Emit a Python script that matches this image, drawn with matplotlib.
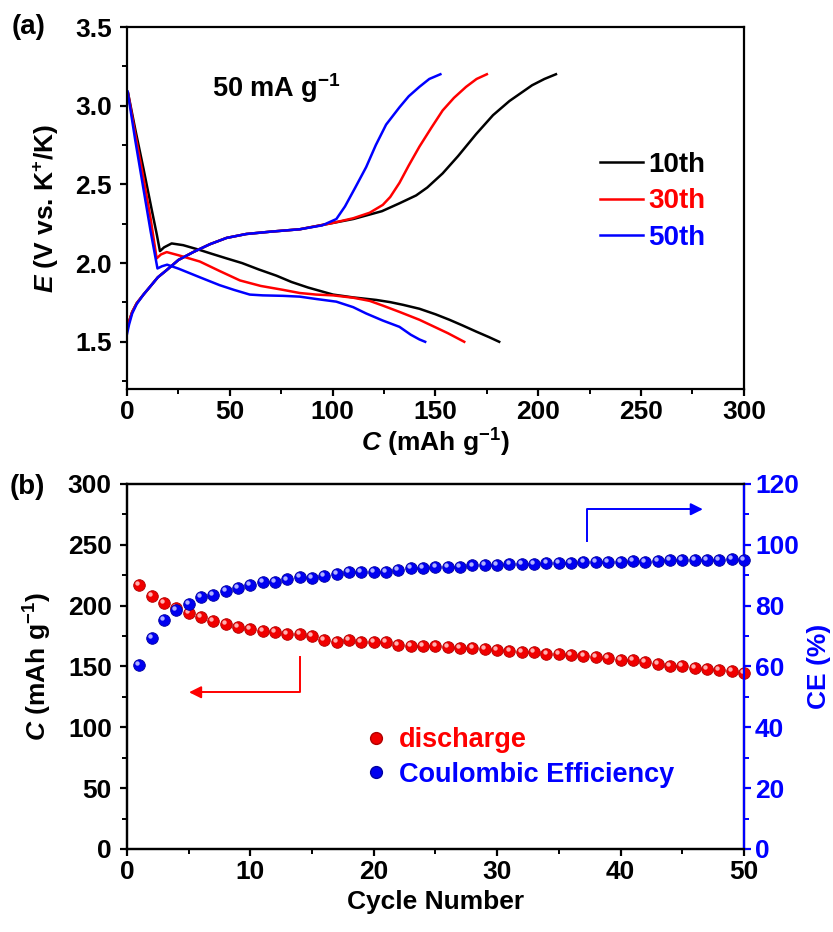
import matplotlib
matplotlib.use("Agg")
import matplotlib.pyplot as plt
import matplotlib.transforms as mtransforms
from matplotlib.lines import Line2D
from matplotlib.ticker import MultipleLocator, FormatStrFormatter

plt.rcParams['font.family'] = ['Liberation Sans', 'DejaVu Sans']
plt.rcParams['font.weight'] = 'bold'
plt.rcParams['axes.labelweight'] = 'bold'
plt.rcParams['mathtext.fontset'] = 'custom'
plt.rcParams['mathtext.rm'] = 'Liberation Sans:bold'
plt.rcParams['mathtext.it'] = 'Liberation Sans:italic:bold'
plt.rcParams['mathtext.bf'] = 'Liberation Sans:bold'
plt.rcParams['mathtext.default'] = 'rm'

# ---- (a) galvanostatic charge/discharge profiles ----
dis10_c = [0.5, 4, 8, 12, 14.5, 16, 18, 21.7, 27.3, 35, 41, 48.4, 56, 64, 72.7, 80, 88,
           100.2, 110, 121.2, 128, 134.2, 142.2, 150, 156.8, 163, 169.8, 176, 181]
dis10_v = [3.08, 2.85, 2.6, 2.34, 2.18, 2.076, 2.1, 2.125, 2.114, 2.085, 2.06, 2.03, 2.0,
           1.96, 1.92, 1.88, 1.845, 1.80, 1.782, 1.766, 1.752, 1.735, 1.71, 1.675, 1.64,
           1.605, 1.565, 1.53, 1.50]
dis30_c = [0.5, 4, 8, 11.5, 14.4, 16.5, 19.3, 25, 35.4, 45, 54.9, 65, 75.9, 84, 92,
           100.2, 110, 118, 124.4, 132.5, 142.2, 148.7, 156, 164]
dis30_v = [3.08, 2.82, 2.54, 2.28, 2.03, 2.055, 2.07, 2.05, 2.01, 1.95, 1.89, 1.855, 1.83,
           1.81, 1.80, 1.795, 1.78, 1.76, 1.73, 1.69, 1.64, 1.60, 1.555, 1.50]
dis50_c = [0.3, 4, 8, 11.5, 14.8, 17, 19.5, 25, 35.4, 45, 52, 59.7, 66, 75.9, 84, 92,
           101.8, 110, 116.3, 124.4, 132.5, 138, 142.2, 145]
dis50_v = [3.09, 2.78, 2.47, 2.2, 1.966, 1.98, 1.99, 1.965, 1.91, 1.86, 1.83, 1.80, 1.795,
           1.792, 1.787, 1.772, 1.755, 1.72, 1.68, 1.635, 1.595, 1.545, 1.515, 1.50]

chg_common_c = [0, 1, 2.5, 4.7, 8, 11.2, 15, 19.3, 25, 32.2, 40.3, 48.4, 58, 70, 84, 100]
chg_common_v = [1.58, 1.63, 1.69, 1.745, 1.80, 1.85, 1.91, 1.956, 2.02, 2.07, 2.12, 2.16,
                2.185, 2.20, 2.215, 2.255]
chg10_c = chg_common_c + [110, 124, 132.5, 140.6, 146, 153.5, 161, 169.8, 178, 186, 197, 203, 208.6]
chg10_v = chg_common_v + [2.28, 2.33, 2.38, 2.43, 2.48, 2.57, 2.68, 2.82, 2.94, 3.03, 3.13, 3.17, 3.2]
chg30_c = chg_common_c + [110, 118, 124.4, 128, 132.5, 137, 142.2, 148, 153.5, 159, 164.9, 170, 175]
chg30_v = chg_common_v + [2.285, 2.32, 2.37, 2.42, 2.51, 2.62, 2.74, 2.86, 2.97, 3.05, 3.12, 3.17, 3.2]
chg50_c = [0, 1, 2.5, 4.7, 8, 11.2, 15, 19.3, 25, 32.2, 40.3, 48.4, 58, 70, 84, 95,
           101.8, 106, 111, 116.3, 121, 126, 132.5, 137, 142.2, 147, 152.4]
chg50_v = [1.55, 1.61, 1.68, 1.74, 1.80, 1.85, 1.91, 1.956, 2.02, 2.07, 2.12, 2.16, 2.185,
           2.20, 2.215, 2.24, 2.28, 2.36, 2.48, 2.61, 2.75, 2.88, 2.99, 3.06, 3.12, 3.17, 3.2]

cycle_labels = ['10th', '30th', '50th']
cycle_colors = ['black', '#ff0000', '#0000ff']

# ---- (b) cycling performance ----
cycles = list(range(1, 51))
discharge_cap = [217, 208, 202, 198, 194, 190.7, 187.4, 185.2, 182.5, 180.8,
                 179.5, 178.4, 177, 177, 174.8, 172, 170.4, 171.5, 170.4, 170.4,
                 170, 168, 167, 166.6, 167.1, 166.0, 165.2, 164.9, 164.4, 163.3,
                 162.8, 162.2, 161.7, 160.6, 160.0, 159.5, 158.4, 157.8, 156.7, 155.6,
                 155.1, 154.0, 152.3, 150.7, 150.2, 149.1, 148.0, 146.9, 146.3, 144.7]
coulombic_eff = [60.4, 69.3, 75.2, 78.5, 80.7, 82.7, 83.6, 84.7, 85.8, 86.8,
                 87.7, 87.7, 88.6, 89.4, 89.0, 89.9, 90.5, 91.2, 91.2, 91.2,
                 91.2, 91.6, 92.3, 92.3, 92.7, 92.7, 92.7, 93.2, 93.4, 93.4,
                 93.6, 93.8, 93.8, 94.0, 94.0, 94.0, 94.3, 94.3, 94.5, 94.5,
                 94.7, 94.3, 94.7, 94.9, 94.9, 94.9, 95.1, 95.1, 95.4, 94.9]

fig = plt.figure(figsize=(8.33, 9.32), dpi=100)
ax1 = fig.add_axes([0.1525, 0.5826, 0.7405, 0.3884])
ax2 = fig.add_axes([0.1525, 0.0891, 0.7405, 0.3916])

TICK_FS = 19
LABEL_FS = 19


def style_axis(ax):
    for sp in ax.spines.values():
        sp.set_linewidth(1.6)
    ax.tick_params(which='major', direction='out', length=5, width=1.6,
                   labelsize=TICK_FS, pad=3)
    ax.tick_params(which='minor', direction='out', length=3.5, width=1.4)
    ax.tick_params(axis='y', which='major', pad=6)
    ax.tick_params(top=False, right=False, which='both')


# panel (a)
profiles = [(dis10_c, dis10_v, chg10_c, chg10_v),
            (dis30_c, dis30_v, chg30_c, chg30_v),
            (dis50_c, dis50_v, chg50_c, chg50_v)]
for (dc, dv, cc, cv), lab, col in zip(profiles, cycle_labels, cycle_colors):
    ax1.plot(dc, dv, color=col, lw=1.8, label=lab)
    ax1.plot(cc, cv, color=col, lw=1.8)

ax1.set_xlim(0, 300)
ax1.set_ylim(1.2, 3.5)
ax1.xaxis.set_major_locator(MultipleLocator(50))
ax1.xaxis.set_minor_locator(MultipleLocator(25))
ax1.yaxis.set_major_locator(MultipleLocator(0.5))
ax1.yaxis.set_minor_locator(MultipleLocator(0.25))
ax1.yaxis.set_major_formatter(FormatStrFormatter('%.1f'))
style_axis(ax1)
ax1.set_xlabel(r'$\mathit{C}$ (mAh g$^{-1}$)', fontsize=LABEL_FS, labelpad=2)
ax1.set_ylabel(r'$\mathit{E}$ (V vs. K$^{+}$/K)', fontsize=LABEL_FS, labelpad=10)
ax1.text(72.8, 3.115, r'50 mA g$^{-1}$', fontsize=19.5, ha='center', va='center')
leg1 = ax1.legend(loc='upper left', bbox_to_anchor=(0.766, 0.655), frameon=False,
                  fontsize=20, handlelength=1.55, handletextpad=0.2, labelspacing=0.38,
                  labelcolor='linecolor', borderaxespad=0, borderpad=0)
for t in leg1.get_texts():
    t.set_fontweight('bold')
fig.text(0.014, 0.971, '(a)', fontsize=20, ha='left', va='center')

# panel (b)
ax3 = ax2.twinx()
hl_red = mtransforms.offset_copy(ax2.transData, fig=fig, x=-1.4, y=1.4, units='points')
hl_blue = mtransforms.offset_copy(ax3.transData, fig=fig, x=-1.4, y=1.4, units='points')

ax2.scatter(cycles, discharge_cap, s=70, color='#f00000', edgecolor='#b00000',
            linewidth=0.6, zorder=3, clip_on=False)
ax2.scatter(cycles, discharge_cap, s=10, color='#ffb0b0', linewidth=0,
            zorder=4, transform=hl_red, clip_on=False)
ax3.scatter(cycles, coulombic_eff, s=70, color='#0000f0', edgecolor='#0000a0',
            linewidth=0.6, zorder=3, clip_on=False)
ax3.scatter(cycles, coulombic_eff, s=10, color='#b0b0ff', linewidth=0,
            zorder=4, transform=hl_blue, clip_on=False)

ax2.set_xlim(0, 50)
ax2.set_ylim(0, 300)
ax3.set_ylim(0, 120)
ax2.xaxis.set_major_locator(MultipleLocator(10))
ax2.xaxis.set_minor_locator(MultipleLocator(5))
ax2.yaxis.set_major_locator(MultipleLocator(50))
ax2.yaxis.set_minor_locator(MultipleLocator(25))
ax3.yaxis.set_major_locator(MultipleLocator(20))
ax3.yaxis.set_minor_locator(MultipleLocator(10))
style_axis(ax2)
for sp in ax3.spines.values():
    sp.set_linewidth(1.6)
ax3.spines['right'].set_color('#0000ff')
ax3.tick_params(which='major', direction='out', length=5, width=1.6, colors='#0000ff',
                labelsize=TICK_FS, pad=3)
ax3.tick_params(which='minor', direction='out', length=3.5, width=1.4, colors='#0000ff')

ax2.set_xlabel('Cycle Number', fontsize=LABEL_FS, labelpad=4)
ax2.set_ylabel(r'$\mathit{C}$ (mAh g$^{-1}$)', fontsize=LABEL_FS, labelpad=10)
ax3.set_ylabel('CE (%)', fontsize=LABEL_FS, color='#0000ff', labelpad=6)
fig.text(0.012, 0.477, '(b)', fontsize=20, ha='left', va='center')

# bent arrows pointing to each axis
ax2.plot([14.0, 14.0, 5.6], [158, 128.8, 128.8], color='#ff0000', lw=1.4)
ax2.annotate('', xy=(4.8, 128.8), xytext=(6.0, 128.8),
             arrowprops=dict(arrowstyle='-|>', color='#ff0000', lw=1.4,
                             mutation_scale=18))
ax3.plot([37.3, 37.3, 46.0], [101.3, 111.7, 111.7], color='#0000ff', lw=1.4)
ax3.annotate('', xy=(46.9, 111.7), xytext=(45.6, 111.7),
             arrowprops=dict(arrowstyle='-|>', color='#0000ff', lw=1.4,
                             mutation_scale=18))

handles = [Line2D([], [], ls='none', marker='o', markersize=8.5,
                  markerfacecolor='#f00000', markeredgecolor='#b00000'),
           Line2D([], [], ls='none', marker='o', markersize=8.5,
                  markerfacecolor='#0000f0', markeredgecolor='#0000a0')]
leg2 = ax2.legend(handles, ['discharge', 'Coulombic Efficiency'], loc='upper left',
                  bbox_to_anchor=(0.382, 0.333), frameon=False, fontsize=19.5,
                  handletextpad=0.35, labelspacing=0.3, handlelength=1.0,
                  borderaxespad=0, borderpad=0)
for t, c in zip(leg2.get_texts(), ['#ff0000', '#0000ff']):
    t.set_color(c)
    t.set_fontweight('bold')

fig.savefig('out.png', dpi=100)
